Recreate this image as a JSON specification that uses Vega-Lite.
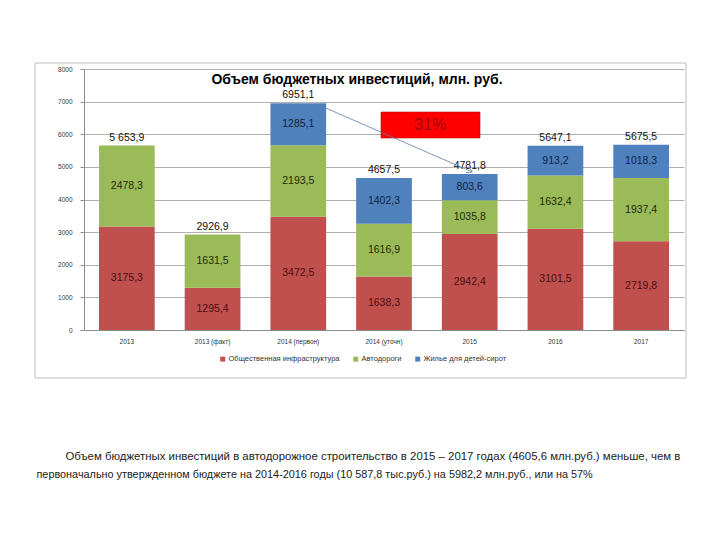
{
  "$schema": "https://vega.github.io/schema/vega-lite/v6.json",
  "autosize": {"type": "none"},
  "width": 600,
  "height": 261,
  "padding": {"left": 84, "top": 69, "right": 36, "bottom": 210},
  "background": "white",
  "config": {
    "font": "Liberation Sans",
    "view": {"stroke": null}
  },
  "datasets": {
    "segs": [
      {"cat": "2013", "series": "Общественная инфраструктура", "ord": 1, "value": 3175.3, "label": "3175,3"},
      {"cat": "2013", "series": "Автодороги", "ord": 2, "value": 2478.3, "label": "2478,3"},
      {"cat": "2013 (факт)", "series": "Общественная инфраструктура", "ord": 1, "value": 1295.4, "label": "1295,4"},
      {"cat": "2013 (факт)", "series": "Автодороги", "ord": 2, "value": 1631.5, "label": "1631,5"},
      {"cat": "2014 (первон)", "series": "Общественная инфраструктура", "ord": 1, "value": 3472.5, "label": "3472,5"},
      {"cat": "2014 (первон)", "series": "Автодороги", "ord": 2, "value": 2193.5, "label": "2193,5"},
      {"cat": "2014 (первон)", "series": "Жилье для детей-сирот", "ord": 3, "value": 1285.1, "label": "1285,1"},
      {"cat": "2014 (уточн)", "series": "Общественная инфраструктура", "ord": 1, "value": 1638.3, "label": "1638,3"},
      {"cat": "2014 (уточн)", "series": "Автодороги", "ord": 2, "value": 1616.9, "label": "1616,9"},
      {"cat": "2014 (уточн)", "series": "Жилье для детей-сирот", "ord": 3, "value": 1402.3, "label": "1402,3"},
      {"cat": "2015", "series": "Общественная инфраструктура", "ord": 1, "value": 2942.4, "label": "2942,4"},
      {"cat": "2015", "series": "Автодороги", "ord": 2, "value": 1035.8, "label": "1035,8"},
      {"cat": "2015", "series": "Жилье для детей-сирот", "ord": 3, "value": 803.6, "label": "803,6"},
      {"cat": "2016", "series": "Общественная инфраструктура", "ord": 1, "value": 3101.5, "label": "3101,5"},
      {"cat": "2016", "series": "Автодороги", "ord": 2, "value": 1632.4, "label": "1632,4"},
      {"cat": "2016", "series": "Жилье для детей-сирот", "ord": 3, "value": 913.2, "label": "913,2"},
      {"cat": "2017", "series": "Общественная инфраструктура", "ord": 1, "value": 2719.8, "label": "2719,8"},
      {"cat": "2017", "series": "Автодороги", "ord": 2, "value": 1937.4, "label": "1937,4"},
      {"cat": "2017", "series": "Жилье для детей-сирот", "ord": 3, "value": 1018.3, "label": "1018,3"}
    ],
    "totals": [
      {"cat": "2013", "total": 5653.9, "label": "5 653,9"},
      {"cat": "2013 (факт)", "total": 2926.9, "label": "2926,9"},
      {"cat": "2014 (первон)", "total": 6951.1, "label": "6951,1"},
      {"cat": "2014 (уточн)", "total": 4657.5, "label": "4657,5"},
      {"cat": "2015", "total": 4781.8, "label": "4781,8"},
      {"cat": "2016", "total": 5647.1, "label": "5647,1"},
      {"cat": "2017", "total": 5675.5, "label": "5675,5"}
    ]
  },
  "resolve": {"scale": {"x": "independent"}, "axis": {"x": "independent", "y": "independent"}},
  "layer": [
    {
      "resolve": {"axis": {"y": "independent"}},
      "layer": [
        {
          "data": {"name": "segs"},
          "mark": {"type": "bar"},
          "encoding": {
            "x": {
              "field": "cat", "type": "nominal", "sort": null,
              "scale": {"paddingInner": 0.35, "paddingOuter": 0.175},
              "axis": {
                "labelAngle": 0,
                "labelFontSize": 6.5,
                "labelColor": "#333333",
                "labelPadding": 8,
                "ticks": false,
                "domainColor": "#8c8c8c",
                "title": "Объем бюджетных инвестиций в автодорожное строительство в 2015 – 2017 годах (4605,6 млн.руб.) меньше, чем в",
                "titleAlign": "left",
                "titleAnchor": "start",
                "titleX": -19,
                "titleY": 129,
                "titleBaseline": "alphabetic",
                "titleFontSize": 11.4,
                "titleFontWeight": "normal",
                "titleColor": "#222222"
              }
            },
            "y": {
              "field": "value", "type": "quantitative", "stack": "zero",
              "scale": {"domain": [0, 8000], "nice": false, "zero": true},
              "axis": {
                "values": [0, 1000, 2000, 3000, 4000, 5000, 6000, 7000, 8000],
                "format": "d",
                "labelFontSize": 6.5,
                "labelColor": "#333333",
                "labelPadding": 8,
                "labelOverlap": false,
                "tickSize": 4,
                "tickColor": "#8c8c8c",
                "domainColor": "#8c8c8c",
                "gridColor": "#9a9a9a",
                "gridWidth": 0.8,
                "title": "первоначально утвержденном бюджете на 2014-2016 годы (10 587,8 тыс.руб.) на 5982,2 млн.руб., или на 57%",
                "titleAngle": 0,
                "titleAlign": "left",
                "titleAnchor": "start",
                "titleX": -48,
                "titleY": 408,
                "titleBaseline": "alphabetic",
                "titleFontSize": 10.85,
                "titleFontWeight": "normal",
                "titleColor": "#222222"
              }
            },
            "order": {"field": "ord"},
            "color": {
              "field": "series", "type": "nominal",
              "scale": {
                "domain": ["Общественная инфраструктура", "Автодороги", "Жилье для детей-сирот"],
                "range": ["#C0504D", "#9BBB59", "#4F81BD"]
              },
              "legend": {
                "orient": "none",
                "legendX": 135,
                "legendY": 286,
                "direction": "horizontal",
                "title": null,
                "symbolType": "square",
                "symbolSize": 25,
                "symbolStrokeWidth": 0,
                "labelFontSize": 7.5,
                "labelColor": "#333333",
                "labelOffset": 2,
                "columnPadding": 12
              }
            }
          }
        },
        {
          "data": {"name": "segs"},
          "mark": {"type": "text", "fontSize": 10.5, "baseline": "middle"},
          "encoding": {
            "x": {"field": "cat", "type": "nominal", "sort": null},
            "y": {"field": "value", "type": "quantitative", "stack": "zero", "bandPosition": 0.5, "axis": null},
            "order": {"field": "ord"},
            "text": {"field": "label"},
            "color": {
              "condition": [
                {"test": "datum.ord == 1", "value": "#4a0d12"},
                {"test": "datum.ord == 2", "value": "#1d2a08"}
              ],
              "value": "#0f2242"
            }
          }
        },
        {
          "data": {"name": "totals"},
          "mark": {"type": "text", "fontSize": 10.5, "baseline": "middle", "dy": -8, "color": "#111111"},
          "encoding": {
            "x": {"field": "cat", "type": "nominal", "sort": null},
            "y": {"field": "total", "type": "quantitative", "axis": null},
            "text": {"field": "label"}
          }
        }
      ]
    },
    {
      "layer": [
        {
          "data": {"values": [{"x0": -0.572, "x1": 7.023, "y0": 8184, "y1": -1471}]},
          "mark": {"type": "rect", "filled": false, "stroke": "#bdbdbd", "strokeWidth": 1},
          "encoding": {
            "x": {"field": "x0", "type": "quantitative", "scale": {"domain": [0, 7], "nice": false, "zero": false}, "axis": null},
            "x2": {"field": "x1"},
            "y": {"field": "y0", "type": "quantitative", "axis": null},
            "y2": {"field": "y1"}
          }
        },
        {
          "data": {"values": [{"x0": 3.465, "x1": 4.62, "y0": 6680, "y1": 5885}]},
          "mark": {"type": "rect", "fill": "#FF0000", "stroke": "#C00000", "strokeWidth": 0.6},
          "encoding": {
            "x": {"field": "x0", "type": "quantitative"},
            "x2": {"field": "x1"},
            "y": {"field": "y0", "type": "quantitative", "axis": null},
            "y2": {"field": "y1"}
          }
        },
        {
          "data": {"values": [{"x": 4.04, "y": 6283, "t": "31%"}]},
          "mark": {"type": "text", "fontSize": 16, "color": "#A00A0A", "baseline": "middle"},
          "encoding": {
            "x": {"field": "x", "type": "quantitative"},
            "y": {"field": "y", "type": "quantitative", "axis": null},
            "text": {"field": "t"}
          }
        },
        {
          "data": {"values": [{"x": 3.185, "y": 7660, "t": "Объем бюджетных инвестиций, млн. руб."}]},
          "mark": {"type": "text", "fontSize": 14, "fontWeight": "bold", "color": "#000000", "baseline": "middle"},
          "encoding": {
            "x": {"field": "x", "type": "quantitative"},
            "y": {"field": "y", "type": "quantitative", "axis": null},
            "text": {"field": "t"}
          }
        },
        {
          "data": {"values": [{"x": 2.82, "y": 6805}, {"x": 4.53, "y": 4843}]},
          "mark": {"type": "line", "color": "#5b7ea8", "strokeWidth": 0.8},
          "encoding": {
            "x": {"field": "x", "type": "quantitative"},
            "y": {"field": "y", "type": "quantitative", "axis": null}
          }
        },
        {
          "data": {"values": [{"x": 4.53, "y": 4843}]},
          "mark": {"type": "point", "shape": "M-1,-0.6L0,0L-1,0.6", "angle": 24, "filled": false, "stroke": "#5b7ea8", "strokeWidth": 0.8, "size": 120, "opacity": 1},
          "encoding": {
            "x": {"field": "x", "type": "quantitative"},
            "y": {"field": "y", "type": "quantitative", "axis": null}
          }
        }
      ]
    }
  ]
}
